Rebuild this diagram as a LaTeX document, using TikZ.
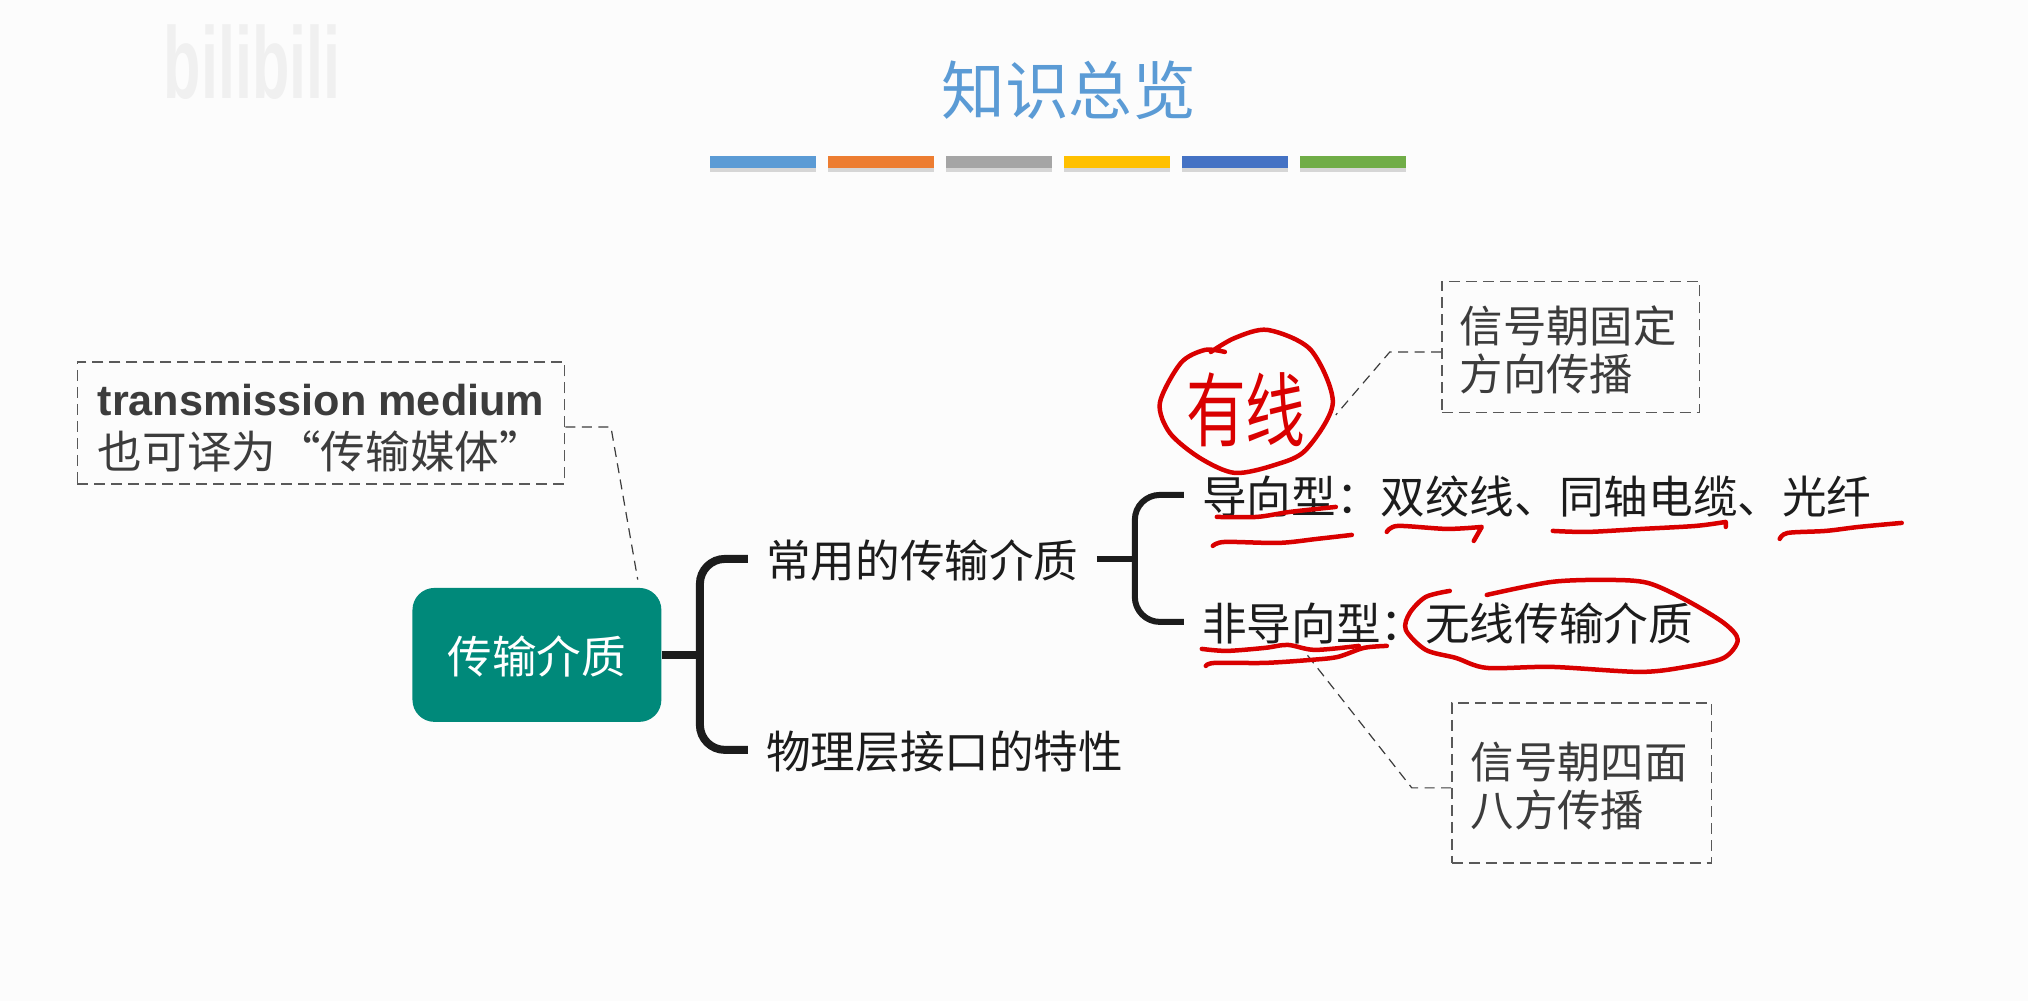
\documentclass[tikz,border=0pt]{standalone}
\usepackage{fontspec}
\setmainfont{Liberation Sans}
\newfontfamily\cjk{Noto Sans CJK SC}
\usetikzlibrary{positioning,calc,shadows}
\tikzset{every node/.append style={align=center}}
\definecolor{titleblue}{HTML}{5B9BD5}
\definecolor{barorange}{HTML}{ED7D31}
\definecolor{bargray}{HTML}{A5A5A5}
\definecolor{baryellow}{HTML}{FFC000}
\definecolor{barblue}{HTML}{4472C4}
\definecolor{bargreen}{HTML}{70AD47}
\definecolor{rootteal}{HTML}{00897A}
\definecolor{inkblack}{HTML}{1C1C1C}
\definecolor{notegray}{HTML}{3C3C3C}
\definecolor{penred}{HTML}{D90000}
\tikzset{
  barbox/.style={minimum width=2.12cm, minimum height=0.24cm, inner sep=0pt, drop shadow={shadow xshift=0cm, shadow yshift=-0.08cm, opacity=0.3}},
  notebox/.style={draw=notegray!85, line width=0.03cm, dash pattern=on 0.22cm off 0.12cm, text=notegray, font=\cjk\fontsize{25.4}{27.3}\selectfont},
  sidenote/.style={notebox, font=\cjk\fontsize{24.7}{27.3}\selectfont, align=left, text width=4.44cm, inner xsep=0.36cm, inner ysep=0pt, execute at begin node={\rule{0pt}{24pt}}},
  noteline/.style={draw=notegray, line width=0.024cm, dash pattern=on 0.2cm off 0.13cm},
  mindtext/.style={anchor=west, inner xsep=0.36cm, inner ysep=0pt, text=inkblack, text height=24pt, text depth=2.4pt, font=\cjk\fontsize{25.4}{30}\selectfont},
  trunk/.style={draw=inkblack, line width=0.16cm, rounded corners=0.5cm},
  branch/.style={draw=inkblack, line width=0.12cm, rounded corners=0.5cm},
  redpen/.style={draw=penred, line width=0.09cm, line cap=round, line join=round}
}

\begin{document}
\begin{tikzpicture}[x=0.02cm, y=-0.02cm, >=latex]
  \node[fill=white!99!black, minimum width=40.56cm, minimum height=20.02cm, inner sep=0pt, anchor=north west] (page) at (0,0) {};
  \useasboundingbox (page.north west) rectangle (page.south east);

  \node[text=black!6, font=\bfseries\fontsize{58}{60}\selectfont, xscale=0.6] (logo) at (252,62) {bilibili};
  \node[text=titleblue, font=\cjk\fontsize{36.3}{40}\selectfont] (title) at (1069,90) {知识总览};

  \node[barbox, fill=titleblue, anchor=west] (bar1) at (710,162) {};
  \node[barbox, fill=barorange, right=0.225cm of bar1] (bar2) {};
  \node[barbox, fill=bargray, right=0.225cm of bar2] (bar3) {};
  \node[barbox, fill=baryellow, right=0.225cm of bar3] (bar4) {};
  \node[barbox, fill=barblue, right=0.225cm of bar4] (bar5) {};
  \node[barbox, fill=bargreen, right=0.225cm of bar5] (bar6) {};

  \node[fill=rootteal, rounded corners=0.44cm, minimum width=4.98cm, minimum height=2.68cm, inner sep=0pt, text=white, text height=24pt, text depth=2.4pt, font=\cjk\fontsize{25.4}{30}\selectfont] (root) at (537,655) {传输介质};
  \node[mindtext] (usual) at (748,559) {常用的传输介质};
  \node[mindtext] (property) at (748,750) {物理层接口的特性};
  \node[mindtext] (guided) at (1184,495) {导向型：双绞线、同轴电缆、光纤};
  \node[mindtext] (unguided) at (1184,622) {非导向型：无线传输介质};

  \node[notebox, minimum width=9.75cm, minimum height=2.44cm, inner sep=0pt] (term) at (321,423) {\rule{0pt}{24pt}{\normalfont\bfseries\fontsize{24.6}{29.6}\selectfont transmission medium}\\[0.1cm]也可译为“传输媒体”};
  \node[sidenote, minimum height=2.62cm] (fixednote) at (1571,347) {信号朝固定\\方向传播};
  \node[sidenote, minimum width=5.2cm, minimum height=3.2cm] (allnote) at (1582,783) {信号朝四面\\八方传播};

  \coordinate (forkA) at (700,655);
  \coordinate (forkB) at (1135,559);
  \coordinate (termbend) at (611,427);
  \coordinate (fixedbend) at (1390,352);
  \coordinate (fixedend) at (1336,415);
  \coordinate (allbend) at (1412,788);
  \coordinate (allend) at (1305,652);

  \draw[trunk] (usual.west) -| (forkA) |- (property.west);
  \draw[trunk] (root.east) -- (forkA);
  \draw[branch] (guided.west) -| (forkB) |- (unguided.west);
  \draw[branch] (usual.east) -- (forkB);

  \draw[noteline] ([yshift=-0.08cm]term.east) -- (termbend) -- ([xshift=-0.48cm,yshift=0.16cm]root.north east);
  \draw[noteline] ([yshift=-0.1cm]fixednote.west) -- (fixedbend) -- (fixedend);
  \draw[noteline] ([yshift=-0.1cm]allnote.west) -- (allbend) -- (allend);

  \node[text=penred, font=\cjk\fontsize{34}{40}\selectfont, yscale=1.35] (wired) at (1246,410) {有线};
  \draw[redpen] plot[smooth] coordinates {(1225,352) (1205,350) (1181,363) (1160,403) (1170,433) (1200,458) (1235,473) (1275,465) (1306,450) (1333,403) (1311,350) (1268,330) (1235,338) (1211,352)};
  \draw[redpen] plot[smooth] coordinates {(1217,517) (1257,517) (1290,512) (1336,507)};
  \draw[redpen] plot[smooth] coordinates {(1213,546) (1225,542) (1279,543) (1317,539) (1352,535)};
  \draw[redpen] plot[smooth] coordinates {(1387,532) (1398,526) (1447,529) (1482,527)} -- (1474,541);
  \draw[redpen] plot[smooth] coordinates {(1553,531) (1588,532) (1642,529) (1696,526) (1726,522)} -- (1726,527);
  \draw[redpen] plot[smooth] coordinates {(1780,539) (1788,533) (1826,531) (1859,527) (1902,523)};
  \draw[redpen] plot[smooth] coordinates {(1202,649) (1227,651) (1265,648) (1288,645) (1315,650) (1359,646)};
  \draw[redpen] plot[smooth] coordinates {(1206,666) (1215,663) (1265,663) (1311,660) (1338,657) (1364,648) (1387,646)};
  \draw[redpen] plot[smooth] coordinates {(1450,591) (1426,597) (1410,613) (1406,630) (1426,650) (1456,658) (1487,668) (1552,667) (1640,672) (1686,667) (1724,658) (1738,640) (1724,623) (1686,600) (1648,583) (1609,580) (1552,582) (1487,595)};
\end{tikzpicture}
\end{document}
